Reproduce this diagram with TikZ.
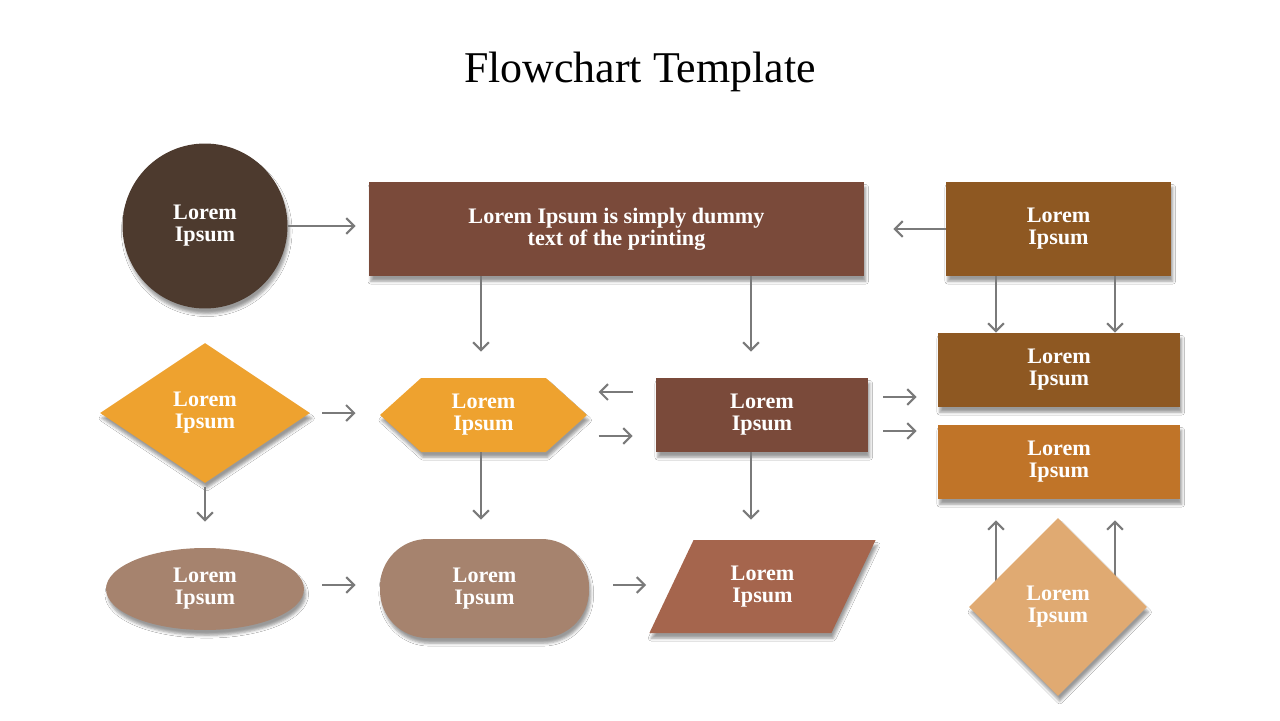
\documentclass[tikz,border=0pt]{standalone}
\usepackage{fontspec}
\setmainfont{Liberation Serif}
\usepackage{xcolor}
\usepackage{tikz}
\usetikzlibrary{shapes.geometric,shapes.misc,shapes.symbols,arrows.meta,shadows.blur,backgrounds}

\definecolor{darkbrown}{HTML}{4D3A2E}
\definecolor{redbrown}{HTML}{7A4A3A}
\definecolor{rustbrown}{HTML}{8E5822}
\definecolor{copper}{HTML}{C07428}
\definecolor{sand}{HTML}{E0AA72}
\definecolor{amber}{HTML}{EEA22F}
\definecolor{mocha}{HTML}{A6836E}
\definecolor{terracotta}{HTML}{A5654D}
\definecolor{arrowgray}{HTML}{7A7A7A}

\begin{document}
\begin{tikzpicture}[x=0.02cm,y=-0.02cm,
  fcbox/.style={fill=#1,text=white,inner sep=0pt,align=center,
    font=\bfseries\fontsize{12.6}{12.5}\selectfont,
    blur shadow={shadow xshift=1pt,shadow yshift=-3pt,shadow blur radius=1.6pt,shadow opacity=40}},
  arr/.style={draw=arrowgray,line width=1.2pt,-{Straight Barb[length=4.5pt,width=9pt]}}]
  \useasboundingbox (0,0) rectangle (1280,720);
  \node[font=\fontsize{25}{30}\selectfont] (title) at (640,72) {Flowchart Template};

  \node[fcbox=darkbrown,circle,minimum size=3.3cm] (circ) at (205,226) {Lorem\\Ipsum};
  \node[fcbox=redbrown,rectangle,minimum width=9.9cm,minimum height=1.88cm] (main) at (616.5,229)
    {Lorem Ipsum is simply dummy\\text of the printing};
  \node[fcbox=rustbrown,rectangle,minimum width=4.5cm,minimum height=1.88cm] (topr) at (1058.5,229) {Lorem\\Ipsum};
  \node[fcbox=rustbrown,rectangle,minimum width=4.84cm,minimum height=1.48cm] (boxa) at (1059,370) {Lorem\\Ipsum};
  \node[fcbox=copper,rectangle,minimum width=4.84cm,minimum height=1.48cm] (boxb) at (1059,462) {Lorem\\Ipsum};
  \node[fcbox=amber,diamond,minimum width=4.2cm,minimum height=2.8cm] (decide) at (205,413) {Lorem\\Ipsum};
  \node[fcbox=amber,signal,signal to=east and west,signal pointer angle=84,
    minimum width=4.14cm,minimum height=1.48cm] (hex) at (483.5,415) {Lorem\\Ipsum};
  \node[fcbox=redbrown,rectangle,minimum width=4.24cm,minimum height=1.48cm] (mid) at (762,415) {Lorem\\Ipsum};
  \node[fcbox=mocha,ellipse,minimum width=3.96cm,minimum height=1.64cm] (oval) at (205,589) {Lorem\\Ipsum};
  \node[fcbox=mocha,rectangle,rounded corners=0.95cm,minimum width=4.18cm,minimum height=1.98cm] (pill) at (484.5,588.5) {Lorem\\Ipsum};
  \node[fcbox=terracotta,trapezium,trapezium left angle=63.7,trapezium right angle=116.3,trapezium stretches,
    minimum width=4.54cm,minimum height=1.86cm] (para) at (762.5,586.5) {Lorem\\Ipsum};
  \node[fcbox=sand,diamond,minimum width=3.56cm,minimum height=3.56cm] (gem) at (1058,607) {Lorem\\Ipsum};

  \draw[arr,shorten >=0.26cm] (circ.east) -- (main.west |- circ.east);
  \draw[arr,shorten >=0.58cm] (topr.west) -- (main.east |- topr.west);
  \draw[arr,shorten >=0.52cm] ([xshift=-0.05cm]main.south -| hex.north) -- ([xshift=-0.05cm]hex.north);
  \draw[arr,shorten >=0.52cm] ([xshift=-0.22cm]mid.north |- main.south) -- ([xshift=-0.22cm]mid.north);
  \draw[arr] ([xshift=-1.25cm]topr.south) -- ([xshift=-1.25cm]topr.south |- boxa.north);
  \draw[arr] ([xshift=1.13cm]topr.south) -- ([xshift=1.13cm]topr.south |- boxa.north);
  \draw[arr,shorten <=0.24cm,shorten >=0.48cm] (decide.east) -- (decide.east -| hex.west);
  \draw[arr,shorten <=0.46cm,shorten >=0.22cm] ([yshift=0.46cm]mid.west) -- ([yshift=0.46cm]mid.west -| hex.east);
  \draw[arr,shorten <=0.22cm,shorten >=0.46cm] ([yshift=-0.42cm]hex.east) -- ([yshift=-0.42cm]mid.west);
  \draw[arr,shorten <=0.3cm,shorten >=0.42cm] ([yshift=0.36cm]mid.east) -- ([yshift=0.36cm]mid.east -| boxa.west);
  \draw[arr,shorten <=0.3cm,shorten >=0.42cm] ([yshift=-0.32cm]mid.east) -- ([yshift=-0.32cm]mid.east -| boxb.west);
  \draw[arr,shorten <=0.08cm,shorten >=0.52cm] (decide.south) -- (oval.north);
  \draw[arr,shorten >=0.38cm] ([xshift=-0.05cm]hex.south) -- ([xshift=-0.05cm]hex.south |- pill.north);
  \draw[arr,shorten >=0.4cm] ([xshift=-0.22cm]mid.south) -- ([xshift=-0.22cm]mid.south |- para.north);
  \draw[arr,shorten <=0.36cm,shorten >=0.48cm] ([yshift=0.08cm]oval.east) -- ([yshift=0.08cm]oval.east -| pill.west);
  \draw[arr,shorten <=0.48cm,shorten >=0.5cm] ([yshift=0.07cm]pill.east) -- ([yshift=0.07cm]pill.east -| para.west);
  \begin{scope}[on background layer]
    \fill[white] (0,0) rectangle (1280,720);
    \draw[arr,shorten >=0.42cm] ([xshift=-1.26cm]boxb.south |- gem.center) -- ([xshift=-1.26cm]boxb.south);
    \draw[arr,shorten >=0.42cm] ([xshift=1.12cm]boxb.south |- gem.center) -- ([xshift=1.12cm]boxb.south);
  \end{scope}
\end{tikzpicture}
\end{document}
